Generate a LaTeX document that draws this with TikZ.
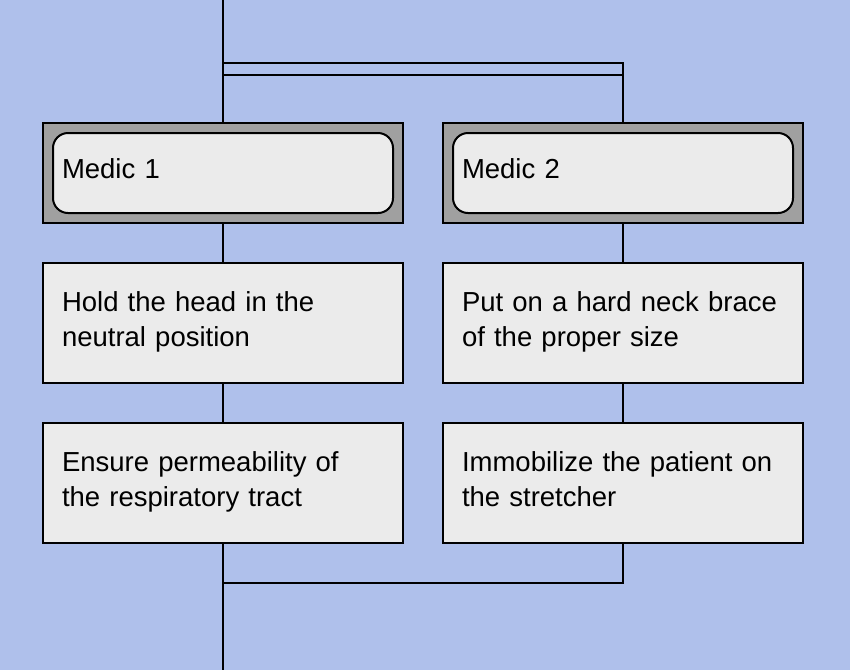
\documentclass[tikz,border=0pt]{standalone}
\usepackage{fontspec}
\setmainfont{Liberation Sans}
\usetikzlibrary{calc}

\definecolor{bgblue}{HTML}{AFC0EB}
\definecolor{boxgray}{HTML}{EBEBEB}
\definecolor{laneGray}{HTML}{A0A0A0}

\tikzset{
  line/.style={line width=2pt,black},
  medic/.style={line, draw, fill=laneGray, minimum width=360pt, minimum height=100pt, inner sep=0pt},
  medicin/.style={line, draw, fill=boxgray, rounded corners=15pt, minimum width=340pt, minimum height=80pt,
    text width=322pt, inner xsep=9pt, align=left, font=\fontsize{27.5}{35}\selectfont},
  action/.style={line, draw, fill=boxgray, minimum width=360pt, minimum height=120pt,
    text width=322pt, inner xsep=19pt, align=left, font=\fontsize{27.5}{35}\selectfont}
}

\begin{document}
\begin{tikzpicture}[x=1pt,y=-1pt]

\fill[bgblue] (0,0) rectangle (850,670);
\useasboundingbox (0,0) rectangle (850,670);

\pgfmathsetmacro{\colA}{223}
\pgfmathsetmacro{\colB}{623}

\coordinate (top) at (\colA,0);
\coordinate (barNW) at (\colA,63);
\coordinate (barSE) at (\colB,75);
\coordinate (join) at (\colA,583);
\coordinate (bottom) at (\colA,670);

\node[medic] (medA) at (\colA,173) {};
\node[medicin] (medAin) at (\colA,173) {\raisebox{1.5pt}[24.5pt][10.5pt]{Medic 1}};
\node[medic] (medB) at (\colB,173) {};
\node[medicin] (medBin) at (\colB,173) {\raisebox{1.5pt}[24.5pt][10.5pt]{Medic 2}};

\node[action] (headA) at (\colA,323) {\strut Hold the head in the\\neutral position\strut\vspace{3pt}};
\node[action] (brace) at (\colB,323) {\strut Put on a hard neck brace\\of the proper size\strut\vspace{3pt}};
\node[action] (airway) at (\colA,483) {\strut Ensure permeability of\\the respiratory tract\strut\vspace{3pt}};
\node[action] (strap) at (\colB,483) {\strut Immobilize the patient on\\the stretcher\strut\vspace{3pt}};

% fork bar
\draw[line] (barNW) rectangle (barSE);
\draw[line] (top) -- (medA.north);
\draw[line] (barSE) -- (medB.north);

\draw[line] (medA.south) -- (headA.north);
\draw[line] (headA.south) -- (airway.north);
\draw[line] (medB.south) -- (brace.north);
\draw[line] (brace.south) -- (strap.north);

% join
\draw[line] (strap.south) |- (join);
\draw[line] (airway.south) -- (bottom);

\end{tikzpicture}
\end{document}
